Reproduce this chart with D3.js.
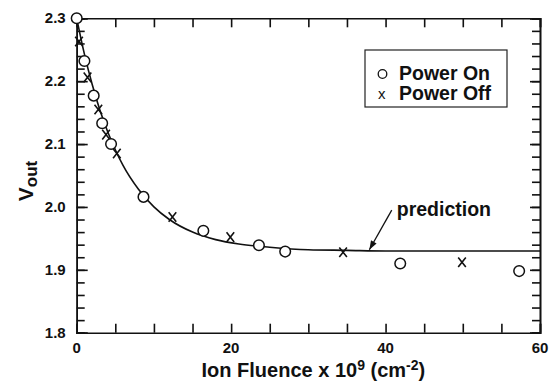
<!DOCTYPE html>
<html>
<head>
<meta charset="utf-8">
<script src="https://cdn.jsdelivr.net/npm/d3@7"></script>
<style>
  body { margin: 0; background: #fff; }
  text { font-family: "Liberation Sans", Arial, Helvetica, sans-serif; font-weight: bold; fill: #111; }
  .axis path, .axis line { stroke: #111; stroke-width: 1.6; }
</style>
</head>
<body>
<svg id="chart" width="559" height="384"></svg>
<script>
// data
const powerOnX  = [0, 1.0, 2.2, 3.3, 4.45, 8.65, 16.4, 23.6, 27.0, 41.9, 57.3];
const powerOnY  = [2.300, 2.232, 2.177, 2.133, 2.100, 2.016, 1.962, 1.939, 1.929, 1.910, 1.898];
const powerOffX = [0.3, 1.4, 2.8, 3.8, 5.2, 12.4, 19.9, 34.5, 49.9];
const powerOffY = [2.263, 2.206, 2.155, 2.115, 2.085, 1.984, 1.952, 1.928, 1.912];
const predX = [0, 1, 2, 3, 4, 5, 6, 8, 10, 12, 15, 18, 21, 25, 30, 35, 40, 50, 60];
const predY = [2.300, 2.243, 2.195, 2.154, 2.120, 2.091, 2.066, 2.028, 2.000, 1.980, 1.960, 1.948, 1.941, 1.936, 1.932, 1.931, 1.930, 1.930, 1.930];
const xTicks = [0, 5, 10, 15, 20, 25, 30, 35, 40, 45, 50, 55, 60];
const xLabels = [0, 20, 40, 60];
const yMajor = [1.8, 1.9, 2.0, 2.1, 2.2, 2.3];
const yMinor = d3.range(0, 26).map(i => +(1.8 + i * 0.02).toFixed(2));
const legendNames = ["Power On", "Power Off"];
const arrowTail = [40.8, 1.995];
const arrowTip = [37.9, 1.932];

const svg = d3.select("#chart");
const mLeft = 76.7, mRight = 540, mTop = 18.3, mBottom = 332.7;

const x = d3.scaleLinear().domain([0, 60]).range([mLeft, mRight]);
const y = d3.scaleLinear().domain([1.8, 2.3]).range([mBottom, mTop]);

// axes, ticks pointing in
svg.append("g").attr("class", "axis")
  .attr("transform", `translate(0,${mBottom})`)
  .call(d3.axisBottom(x).tickValues(xTicks).tickSize(-9).tickFormat(""));
svg.append("g").attr("class", "axis")
  .attr("transform", `translate(0,${mTop})`)
  .call(d3.axisTop(x).tickValues(xTicks).tickSize(-9).tickFormat(""));
svg.append("g").attr("class", "axis")
  .attr("transform", `translate(${mLeft},0)`)
  .call(d3.axisLeft(y).tickValues(yMinor).tickSize(-8).tickFormat(""));
svg.append("g").attr("class", "axis")
  .attr("transform", `translate(${mLeft},0)`)
  .call(d3.axisLeft(y).tickValues(yMajor).tickSize(-11).tickFormat(""));
svg.append("g").attr("class", "axis")
  .attr("transform", `translate(${mRight},0)`)
  .call(d3.axisRight(y).tickValues(yMinor).tickSize(-8).tickFormat(""));
svg.append("g").attr("class", "axis")
  .attr("transform", `translate(${mRight},0)`)
  .call(d3.axisRight(y).tickValues(yMajor).tickSize(-10).tickFormat(""));
svg.selectAll(".axis .domain").attr("stroke-width", 1.8);

// tick labels
svg.selectAll(".xl").data(xLabels).enter().append("text")
  .attr("x", d => x(d)).attr("y", mBottom + 20)
  .attr("text-anchor", "middle").style("font-size", "15px")
  .text(d => d);
svg.selectAll(".yl").data(yMajor).enter().append("text")
  .attr("x", mLeft - 11).attr("y", d => y(d) + 5)
  .attr("text-anchor", "end").style("font-size", "15px")
  .text(d => d.toFixed(1));

// axis titles
const xt = svg.append("text")
  .attr("x", (mLeft + mRight) / 2 + 5).attr("y", 377)
  .attr("text-anchor", "middle").style("font-size", "20px");
xt.append("tspan").text("Ion Fluence x 10");
xt.append("tspan").attr("dy", -7).style("font-size", "14px").text("9");
xt.append("tspan").attr("dy", 7).text(" (cm");
xt.append("tspan").attr("dy", -7).style("font-size", "14px").text("-2");
xt.append("tspan").attr("dy", 7).text(")");

const yt = svg.append("text")
  .attr("transform", "translate(33,181) rotate(-90)")
  .attr("text-anchor", "middle").style("font-size", "21px");
yt.append("tspan").text("V");
yt.append("tspan").attr("dy", 4).style("font-size", "17px").text("out");

// prediction curve
const line = d3.line().x(d => x(d[0])).y(d => y(d[1])).curve(d3.curveMonotoneX);
svg.append("path")
  .datum(predX.map((v, i) => [v, predY[i]]))
  .attr("d", line)
  .attr("fill", "none").attr("stroke", "#111").attr("stroke-width", 1.6);

// power off crosses
const cr = 3.8;
svg.selectAll(".off").data(powerOffX.map((v, i) => [v, powerOffY[i]])).enter().append("path")
  .attr("d", d => {
    const px = x(d[0]), py = y(d[1]);
    return `M${px - cr},${py - cr - 1}L${px + cr},${py + cr + 1}M${px + cr},${py - cr - 1}L${px - cr},${py + cr + 1}`;
  })
  .attr("stroke", "#111").attr("stroke-width", 1.6).attr("fill", "none");

// power on circles
svg.selectAll(".on").data(powerOnX.map((v, i) => [v, powerOnY[i]])).enter().append("circle")
  .attr("cx", d => x(d[0])).attr("cy", d => y(d[1])).attr("r", 5.3)
  .attr("fill", "#fff").attr("stroke", "#111").attr("stroke-width", 1.5);

// legend
const lg = svg.append("g");
lg.append("rect").attr("x", 365).attr("y", 50).attr("width", 142).attr("height", 57)
  .attr("fill", "#fff").attr("stroke", "#222").attr("stroke-width", 1.2);
lg.append("circle").attr("cx", 382.5).attr("cy", 74).attr("r", 4.3)
  .attr("fill", "none").attr("stroke", "#111").attr("stroke-width", 1.3);
lg.append("text").attr("x", 378).attr("y", 99).style("font-size", "15px")
  .style("font-weight", "normal").text("x");
lg.selectAll(".lt").data(legendNames).enter().append("text")
  .attr("x", 399).attr("y", (d, i) => 80 + i * 20)
  .style("font-size", "19.5px").text(d => d);

// prediction annotation
const ax1 = x(arrowTail[0]), ay1 = y(arrowTail[1]);
const ax2 = x(arrowTip[0]), ay2 = y(arrowTip[1]);
svg.append("line").attr("x1", ax1).attr("y1", ay1).attr("x2", ax2).attr("y2", ay2)
  .attr("stroke", "#111").attr("stroke-width", 1.3);
const ang = Math.atan2(ay2 - ay1, ax2 - ax1);
const hl = 9, hw = 3.2;
const bx = ax2 - hl * Math.cos(ang), by = ay2 - hl * Math.sin(ang);
svg.append("path")
  .attr("d", `M${ax2},${ay2}L${bx + hw * Math.sin(ang)},${by - hw * Math.cos(ang)}L${bx - hw * Math.sin(ang)},${by + hw * Math.cos(ang)}Z`)
  .attr("fill", "#111");
svg.append("text").attr("x", x(arrowTail[0]) + 5).attr("y", 216)
  .style("font-size", "19.5px").text("prediction");
</script>
</body>
</html>
